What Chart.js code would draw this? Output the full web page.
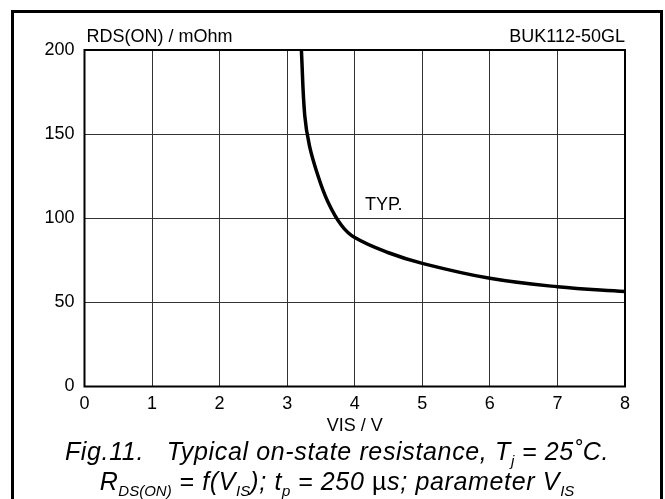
<!DOCTYPE html>
<html>
<head>
<meta charset="utf-8">
<script src="https://cdn.jsdelivr.net/npm/chart.js@4"></script>
<style>
    body { margin: 0; background: #fff; }
    #wrap { position: relative; width: 665px; height: 499px; }
    #chart { position: absolute; left: 0; top: 0; }
    .box {
        position: absolute; left: 11px; top: 10px; width: 646px; height: 489px;
        border: 3px solid #000; border-bottom: none;
    }
    .caption {
        position: absolute; left: 11px; top: 436px; width: 652px;
        text-align: center; font-family: "Liberation Sans", Arial, sans-serif;
        font-style: italic; font-size: 25px; line-height: 30px; color: #000;
        white-space: nowrap; letter-spacing: 0.65px;
    }
    .caption sub {
        font-size: 60%; vertical-align: baseline; position: relative; top: 0.4em; line-height: 0;
        letter-spacing: 0;
    }
    .caption .up { font-style: normal; }
</style>
</head>
<body>
<div id="wrap">
    <canvas id="chart" width="665" height="499"></canvas>
    <div class="box"></div>
    <div class="caption">
        <div>Fig.11.&nbsp;&nbsp; Typical on-state resistance, T<sub>j</sub> = 25˚C.</div>
        <div>R<sub>DS(ON)</sub> = f(V<sub>IS</sub>); t<sub>p</sub> = 250 <span class="up">µ</span>s; parameter V<sub>IS</sub></div>
    </div>
</div>
<script>
    // Typical curve
    const vis = [3.21, 3.26, 3.33, 3.45, 3.60, 3.80, 4.00, 4.50, 5.00, 6.00, 7.00, 8.00];
    const rdsOn = [200, 161, 143, 126, 110, 96, 88.5, 79.5, 73.2, 64.3, 59.3, 56.5];

    const xTicks = [0, 1, 2, 3, 4, 5, 6, 7, 8];
    const yTicks = [0, 50, 100, 150, 200];

    const yTitle = "RDS(ON) / mOhm";
    const xTitle = "VIS / V";
    const partName = "BUK112-50GL";
    const curveLabel = "TYP.";

    const font = "Liberation Sans, Arial, sans-serif";

    // frame round the plot area and the loose labels
    const labelsPlugin = {
        id: "labels",
        afterDraw(chart) {
            const { ctx, chartArea: a, scales } = chart;
            ctx.save();
            ctx.strokeStyle = "#000";
            ctx.lineWidth = 2;
            ctx.strokeRect(a.left, a.top, a.right - a.left, a.bottom - a.top);

            ctx.fillStyle = "#000";
            ctx.font = "18px " + font;
            ctx.textBaseline = "middle";
            ctx.textAlign = "left";
            ctx.fillText(yTitle, a.left + 2, a.top - 13);
            ctx.textAlign = "right";
            ctx.fillText(partName, a.right, a.top - 13);
            ctx.textAlign = "left";
            ctx.fillText(curveLabel, scales.x.getPixelForValue(4.15), scales.y.getPixelForValue(108));
            ctx.restore();
        }
    };

    new Chart(document.getElementById("chart"), {
        type: "line",
        data: {
            datasets: [{
                data: vis.map((v, i) => ({ x: v, y: rdsOn[i] })),
                borderColor: "#000",
                borderWidth: 3.5,
                pointRadius: 0,
                tension: 0.4,
                fill: false
            }]
        },
        options: {
            responsive: false,
            animation: false,
            layout: { padding: { left: 0, right: 40, top: 50, bottom: 0 } },
            plugins: { legend: { display: false }, tooltip: { enabled: false } },
            scales: {
                x: {
                    type: "linear",
                    min: 0,
                    max: 8,
                    afterFit: (s) => { s.height = 112.5; },
                    afterBuildTicks: (s) => { s.ticks = xTicks.map(v => ({ value: v })); },
                    grid: { color: "#333", lineWidth: 1, drawTicks: false },
                    border: { display: false },
                    ticks: { color: "#000", padding: 7, font: { family: font, size: 18 } },
                    title: {
                        display: true, text: xTitle, color: "#000",
                        font: { family: font, size: 18 }, padding: { top: 0, bottom: 62 }
                    }
                },
                y: {
                    min: 0,
                    max: 200,
                    afterFit: (s) => { s.width = 84.5; },
                    afterBuildTicks: (s) => { s.ticks = yTicks.map(v => ({ value: v })); },
                    grid: { color: "#333", lineWidth: 1, drawTicks: false },
                    border: { display: false },
                    ticks: { color: "#000", padding: 10, font: { family: font, size: 18 } }
                }
            }
        },
        plugins: [labelsPlugin]
    });
</script>
</body>
</html>
